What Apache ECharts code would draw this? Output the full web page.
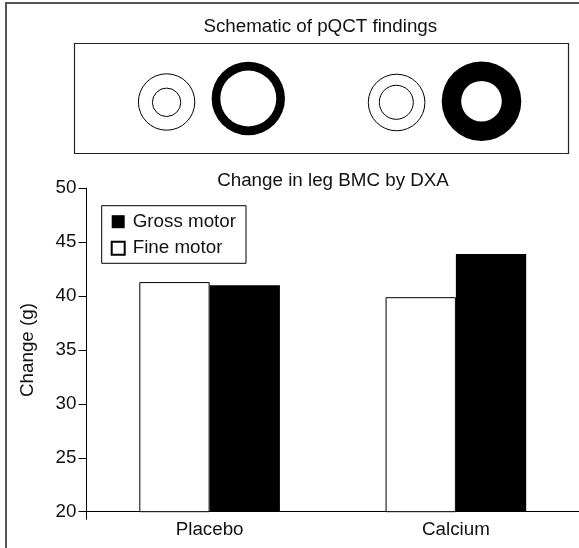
<!DOCTYPE html>
<html>
<head>
<meta charset="utf-8">
<script src="https://cdn.jsdelivr.net/npm/echarts@6/dist/echarts.min.js"></script>
<style>
html,body{margin:0;padding:0;background:#fff;}
#chart{width:579px;height:548px;}
</style>
</head>
<body>
<div id="chart"></div>
<script>
const categories = ['Placebo', 'Calcium'];
const fineMotor = [41.3, 39.9];
const grossMotor = [41.0, 43.9];
const seriesNames = ['Fine motor', 'Gross motor'];
const legendOrder = ['Gross motor', 'Fine motor'];
const yMin = 20, yMax = 50, yStep = 5;
const schematicTitle = 'Schematic of pQCT findings';
const chartTitle = 'Change in leg BMC by DXA';
const yAxisName = 'Change (g)';

const FONT = 'Liberation Sans, Arial, Helvetica, sans-serif';
const FS = 18.8;
const TXT = '#111';

const chart = echarts.init(document.getElementById('chart'), null, {renderer: 'canvas'});

const option = {
  animation: false,
  backgroundColor: '#fff',
  textStyle: {fontFamily: FONT},
  graphic: [
    // outer frame
    {type: 'rect', silent: true, shape: {x: 6, y: 3, width: 620, height: 620},
     style: {fill: 'none', stroke: '#555', lineWidth: 2}},
    // schematic title
    {type: 'text', silent: true, style: {x: 320.3, y: 27, text: schematicTitle, align: 'center', verticalAlign: 'middle',
      fontSize: FS, fontFamily: FONT, fill: TXT}},
    // schematic box
    {type: 'rect', silent: true, shape: {x: 74.5, y: 43.5, width: 494, height: 110},
     style: {fill: 'none', stroke: '#222', lineWidth: 1.2}},
    // pair 1 thin circles
    {type: 'circle', silent: true, shape: {cx: 166.6, cy: 102, r: 28.2}, style: {fill: 'none', stroke: '#000', lineWidth: 1}},
    {type: 'circle', silent: true, shape: {cx: 166.6, cy: 102.3, r: 14.2}, style: {fill: 'none', stroke: '#000', lineWidth: 1}},
    // ring 1
    {type: 'ring', silent: true, shape: {cx: 248.3, cy: 98.5, r: 36.7, r0: 28}, style: {fill: '#000'}},
    // pair 2 thin circles
    {type: 'circle', silent: true, shape: {cx: 396.6, cy: 102.5, r: 28.3}, style: {fill: 'none', stroke: '#000', lineWidth: 1}},
    {type: 'circle', silent: true, shape: {cx: 396.3, cy: 102.3, r: 17}, style: {fill: 'none', stroke: '#000', lineWidth: 1}},
    // ring 2
    {type: 'ring', silent: true, shape: {cx: 481.5, cy: 101.2, r: 39.8, r0: 20.3}, style: {fill: '#000'}},
    // chart title
    {type: 'text', silent: true, style: {x: 333, y: 181, text: chartTitle, align: 'center', verticalAlign: 'middle',
      fontSize: FS, fontFamily: FONT, fill: TXT}}
  ],
  legend: {
    orient: 'vertical',
    left: 101.7,
    top: 205.7,
    padding: [6, 10, 5, 9],
    borderColor: '#000',
    borderWidth: 1,
    icon: 'rect',
    itemWidth: 13,
    itemHeight: 13,
    itemGap: 6.6,
    selectedMode: false,
    data: legendOrder,
    textStyle: {fontSize: FS, lineHeight: 20, color: TXT, fontFamily: FONT, padding: [0, 0, 0, 3]}
  },
  grid: [
    {left: 86.5, right: 0, top: 188.3, bottom: 36.3, containLabel: false},
    {left: 86.5, width: 10, top: 188.3, bottom: 28.7, containLabel: false}
  ],
  xAxis: [
    {
      type: 'category',
      gridIndex: 0,
      data: categories,
      axisLine: {show: true, lineStyle: {color: '#000', width: 1}},
      axisTick: {show: false},
      axisLabel: {color: TXT, fontSize: FS, fontFamily: FONT, margin: 9},
      splitLine: {show: false}
    },
    {type: 'value', gridIndex: 1, show: false, min: 0, max: 1}
  ],
  yAxis: [
    {
      type: 'value',
      gridIndex: 0,
      min: yMin,
      max: yMax,
      interval: yStep,
      name: yAxisName,
      nameLocation: 'middle',
      nameGap: 49,
      nameTextStyle: {color: TXT, fontSize: FS, fontFamily: FONT},
      axisLine: {show: true, lineStyle: {color: '#000', width: 1}},
      axisTick: {show: true, length: 8, lineStyle: {color: '#000', width: 1}},
      axisLabel: {color: TXT, fontSize: FS, fontFamily: FONT, margin: 10},
      splitLine: {show: false}
    },
    {
      type: 'value',
      gridIndex: 1,
      min: 0,
      max: 1,
      axisLine: {show: true, lineStyle: {color: '#000', width: 1}},
      axisTick: {show: false},
      axisLabel: {show: false},
      splitLine: {show: false}
    }
  ],
  series: [
    {
      name: seriesNames[0],
      type: 'bar',
      xAxisIndex: 0,
      yAxisIndex: 0,
      data: fineMotor,
      barWidth: 70.3,
      barGap: '0%',
      itemStyle: {color: '#fff', borderColor: '#000', borderWidth: 1},
      emphasis: {disabled: true}
    },
    {
      name: seriesNames[1],
      type: 'bar',
      xAxisIndex: 0,
      yAxisIndex: 0,
      data: grossMotor,
      barWidth: 70.3,
      barGap: '0%',
      itemStyle: {color: '#000', borderColor: '#000', borderWidth: 0},
      emphasis: {disabled: true}
    }
  ]
};
chart.setOption(option);
</script>
</body>
</html>
